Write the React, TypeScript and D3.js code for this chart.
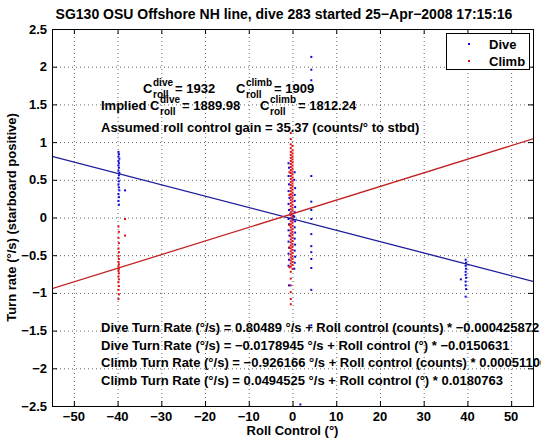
import React from 'react';
import * as d3 from 'd3';

const W = 541;
const H = 442;
const FONT = '"Liberation Sans", Arial, Helvetica, sans-serif';

const xDomain = [-55, 55];
const yDomain = [-2.5, 2.5];
const xTicks = [-50, -40, -30, -20, -10, 0, 10, 20, 30, 40, 50];
const yTicks = [-2.5, -2, -1.5, -1, -0.5, 0, 0.5, 1, 1.5, 2, 2.5];

const titleText = 'SG130 OSU Offshore NH line, dive 283 started 25\u2212Apr\u22122008 17:15:16';
const xLabel = 'Roll Control (\u00b0)';
const yLabel = 'Turn rate (\u00b0/s) (starboard positive)';
const legendLabels = ['Dive', 'Climb'];

// fit lines: [intercept, slope] in deg/s vs degrees of roll control
const diveFitCoef = [-0.0178945, -0.0150631];
const climbFitCoef = [0.0494525, 0.0180763];

const diveXY: [number, number][] = [
  [-39.8, 0.87], [-39.7, 0.84], [-39.8, 0.81], [-39.6, 0.78], [-39.8, 0.75], [-39.7, 0.72],
  [-39.8, 0.69], [-39.7, 0.66], [-39.8, 0.62], [-39.6, 0.59], [-39.7, 0.56], [-39.8, 0.52],
  [-39.7, 0.48], [-39.8, 0.44], [-39.7, 0.4], [-39.6, 0.36], [-39.8, 0.31], [-39.7, 0.27],
  [-39.8, 0.22], [-39.7, 0.17], [-38.3, 0.36],
  [-0.9, 0.72], [-0.8, 0.66], [0.5, 0.6], [-0.9, 0.55], [0.4, 0.5], [-0.8, 0.44], [0.6, 0.39],
  [-0.9, 0.35], [0.5, 0.3], [-0.7, 0.26], [0.5, 0.22], [-0.9, 0.18], [0.6, 0.14], [-0.8, 0.1],
  [0.5, 0.07], [-0.6, 0.04], [0.4, 0.01], [-0.9, -0.02], [0.6, -0.05], [-0.8, -0.09], [0.5, -0.13],
  [-0.9, -0.17], [0.6, -0.2], [-0.7, -0.24], [0.5, -0.28], [-0.9, -0.32], [0.6, -0.36], [-0.8, -0.4],
  [0.5, -0.44], [-0.9, -0.48], [0.6, -0.52], [-0.8, -0.56], [0.5, -0.6], [-0.9, -0.64], [0.4, -0.68],
  [-0.8, -0.9], [0.2, 0.02], [0.1, -0.03],
  [4.3, 2.13], [4.3, 1.96], [4.3, 1.82], [4.3, 0.55], [4.3, 0.21], [4.3, 0.1], [4.3, -0.02],
  [4.3, -0.22], [4.3, -0.38], [4.3, -0.46], [4.3, -0.55], [4.3, -0.67], [4.3, -0.96], [4.3, -1.43],
  [1.8, -2.48],
  [39.6, -0.56], [39.7, -0.6], [39.6, -0.64], [39.7, -0.68], [39.6, -0.72], [39.6, -0.76],
  [39.7, -0.8], [39.6, -0.85], [39.6, -0.9], [39.7, -0.95], [39.6, -1.05], [38.5, -0.82],
];

const climbXY: [number, number][] = [
  [-39.8, -0.12], [-39.7, -0.19], [-39.8, -0.27], [-39.7, -0.34], [-39.8, -0.41], [-39.7, -0.46],
  [-39.8, -0.51], [-39.7, -0.55], [-39.8, -0.59], [-39.7, -0.62], [-39.8, -0.65], [-39.7, -0.68],
  [-39.8, -0.71], [-39.7, -0.74], [-39.8, -0.78], [-39.7, -0.82], [-39.8, -0.86], [-39.7, -0.91],
  [-39.8, -0.96], [-39.7, -1.02], [-39.8, -1.08], [-38.3, -0.02], [-38.3, -0.24],
  [-0.4, 1.12], [-0.4, 1.04], [-0.4, 0.97], [-0.4, 0.92], [-0.4, 0.87], [-0.4, 0.83], [-0.4, 0.79],
  [-0.4, 0.75], [-0.4, 0.71], [-0.4, 0.67], [-0.4, 0.63], [-0.4, 0.59], [-0.4, 0.55], [-0.4, 0.51],
  [-0.4, 0.47], [-0.4, 0.43], [-0.4, 0.39], [-0.4, 0.35], [-0.4, 0.31], [-0.4, 0.27], [-0.4, 0.23],
  [-0.4, 0.19], [-0.4, 0.15], [-0.4, 0.11], [-0.4, 0.07], [-0.4, 0.03], [-0.4, -0.01], [-0.4, -0.05],
  [-0.4, -0.09], [-0.4, -0.13], [-0.4, -0.17], [-0.4, -0.21], [-0.4, -0.25], [-0.4, -0.29],
  [-0.4, -0.33], [-0.4, -0.37], [-0.4, -0.41], [-0.4, -0.45], [-0.4, -0.49], [-0.4, -0.53],
  [-0.4, -0.57], [-0.4, -0.61], [-0.4, -0.65], [-0.4, -0.72], [-0.4, -0.81], [-0.4, -0.9],
  [-0.4, -0.99], [-0.4, -1.08], [-0.4, -1.15],
  [0.0, 0.95], [0.0, 0.89], [0.0, 0.85], [0.0, 0.81], [0.0, 0.77], [0.0, 0.73], [0.0, 0.69],
  [0.0, 0.65], [0.0, 0.61], [0.0, 0.57], [0.0, 0.53], [0.0, 0.49], [0.0, 0.45], [0.0, 0.41],
  [0.0, 0.37], [0.0, 0.33], [0.0, 0.29], [0.0, 0.25], [0.0, 0.21], [0.0, 0.17], [0.0, 0.13],
  [0.0, 0.09], [0.0, 0.05], [0.0, 0.01], [0.0, -0.03], [0.0, -0.07], [0.0, -0.11], [0.0, -0.15],
  [0.0, -0.19], [0.0, -0.23], [0.0, -0.27], [0.0, -0.31], [0.0, -0.35], [0.0, -0.39], [0.0, -0.43],
  [0.0, -0.47], [0.0, -0.51], [0.0, -0.55], [0.0, -0.59], [0.0, -0.63], [0.0, -0.68],
  [-0.7, 1.19], [-0.7, 0.6], [-0.7, 0.3], [-0.7, -0.1], [-0.7, -0.4], [-0.7, -0.66],
];

const bottomLines = [
  'Dive Turn Rate (\u00b0/s) = 0.80489 \u00b0/s + Roll control (counts) * \u22120.000425872',
  'Dive Turn Rate (\u00b0/s) = \u22120.0178945 \u00b0/s + Roll control (\u00b0) * \u22120.0150631',
  'Climb Turn Rate (\u00b0/s) = \u22120.926166 \u00b0/s + Roll control (counts) * 0.00051106',
  'Climb Turn Rate (\u00b0/s) = 0.0494525 \u00b0/s + Roll control (\u00b0) * 0.0180763',
];
const gainLine = 'Assumed roll control gain = 35.37 (counts/\u00b0 to stbd)';
const cValues = ['1932', '1909', '1889.98', '1812.24'];

const PL = 52, PR = 533, PT = 29, PB = 406;

const BLUE_DOT = '#0a0ae0';
const RED_DOT = '#e01010';
const BLUE_LINE = '#1c1c9a';
const RED_LINE = '#c42222';

function CTerm({ x, y, sup, val }: { x: number; y: number; sup: string; val: string }) {
  const supW = sup === 'dive' ? 20 : 26;
  return (
    <g>
      <text x={x} y={y} fontSize={13}>C</text>
      <text x={x + 10} y={y - 7} fontSize={10}>{sup}</text>
      <text x={x + 10} y={y + 5} fontSize={10}>roll</text>
      <text x={x + 12 + supW} y={y} fontSize={13}>{'= ' + val}</text>
    </g>
  );
}

export default function App() {
  const x = d3.scaleLinear().domain(xDomain).range([PL, PR]);
  const y = d3.scaleLinear().domain(yDomain).range([PB, PT]);
  const fmt = (v: number) => d3.format('')(v);
  const fitPath = (coef: number[]) =>
    d3.line<number>().x((d) => x(d)).y((d) => y(coef[0] + coef[1] * d))(xDomain);

  const gridX = xTicks.filter((t) => t > xDomain[0] && t < xDomain[1]);
  const gridY = yTicks.filter((t) => t > yDomain[0] && t < yDomain[1]);
  const TL = 5;

  return (
    <svg
      width={W}
      height={H}
      style={{ position: 'absolute', left: 0, top: 0, background: '#fff' }}
      fontFamily={FONT}
      fontWeight="bold"
    >
      <rect x={0} y={0} width={W} height={H} fill="#fff" />
      <defs>
        <clipPath id="plotclip">
          <rect x={PL} y={PT} width={PR - PL} height={PB - PT} />
        </clipPath>
      </defs>
      <g stroke="#666" strokeWidth={1} strokeDasharray="1 3">
        {gridX.map((t) => (
          <line key={'gx' + t} x1={x(t) + 0.5} x2={x(t) + 0.5} y1={PT} y2={PB} />
        ))}
        {gridY.map((t) => (
          <line key={'gy' + t} x1={PL} x2={PR} y1={y(t) + 0.5} y2={y(t) + 0.5} />
        ))}
      </g>
      <g clipPath="url(#plotclip)">
        {diveXY.map((d, i) => (
          <rect key={'d' + i} x={x(d[0]) - 1} y={y(d[1]) - 1} width={2} height={2} fill={BLUE_DOT} />
        ))}
        {climbXY.map((d, i) => (
          <rect key={'c' + i} x={x(d[0]) - 1} y={y(d[1]) - 1} width={2} height={2} fill={RED_DOT} />
        ))}
        <path d={fitPath(diveFitCoef) || ''} stroke={BLUE_LINE} strokeWidth={1.3} fill="none" />
        <path d={fitPath(climbFitCoef) || ''} stroke={RED_LINE} strokeWidth={1.3} fill="none" />
      </g>
      <g stroke="#000" strokeWidth={1}>
        {xTicks.map((t) => (
          <g key={'tx' + t}>
            <line x1={x(t) + 0.5} x2={x(t) + 0.5} y1={PB} y2={PB - TL} />
            <line x1={x(t) + 0.5} x2={x(t) + 0.5} y1={PT} y2={PT + TL} />
          </g>
        ))}
        {yTicks.map((t) => (
          <g key={'ty' + t}>
            <line x1={PL} x2={PL + TL} y1={y(t) + 0.5} y2={y(t) + 0.5} />
            <line x1={PR} x2={PR - TL} y1={y(t) + 0.5} y2={y(t) + 0.5} />
          </g>
        ))}
      </g>
      <rect x={PL + 0.5} y={PT + 0.5} width={PR - PL} height={PB - PT} fill="none" stroke="#000" strokeWidth={1} />
      <g fontSize={13} fill="#000">
        {xTicks.map((t) => (
          <text key={'lx' + t} x={x(t)} y={PB + 15} textAnchor="middle">{fmt(t)}</text>
        ))}
        {yTicks.map((t) => (
          <text key={'ly' + t} x={PL - 5} y={y(t) + 4.5} textAnchor="end">{fmt(t)}</text>
        ))}
      </g>
      <text x={284} y={19} fontSize={14} textAnchor="middle">{titleText}</text>
      <text x={(PL + PR) / 2} y={435} fontSize={13} textAnchor="middle">{xLabel}</text>
      <text transform={`translate(16,${(PT + PB) / 2}) rotate(-90)`} fontSize={13} textAnchor="middle">{yLabel}</text>
      <rect x={446.5} y={33.5} width={83} height={36} fill="#fff" stroke="#000" strokeWidth={1} />
      <rect x={468} y={43} width={2} height={2} fill={BLUE_DOT} />
      <rect x={468} y={60} width={2} height={2} fill={RED_DOT} />
      <text x={489} y={49} fontSize={13}>{legendLabels[0]}</text>
      <text x={489} y={66} fontSize={13}>{legendLabels[1]}</text>
      <CTerm x={143} y={93} sup="dive" val={cValues[0]} />
      <CTerm x={236} y={93} sup="climb" val={cValues[1]} />
      <text x={101} y={110} fontSize={13}>Implied</text>
      <CTerm x={150} y={110} sup="dive" val={cValues[2]} />
      <CTerm x={260} y={110} sup="climb" val={cValues[3]} />
      <text x={101} y={132} fontSize={13}>{gainLine}</text>
      {bottomLines.map((s, i) => (
        <text key={'bl' + i} x={101} y={332 + i * 17.5} fontSize={13}>{s}</text>
      ))}
    </svg>
  );
}
